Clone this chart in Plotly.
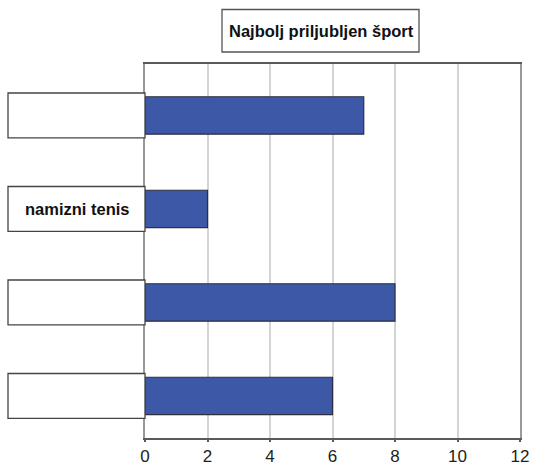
import plotly.graph_objects as go

# data (only one category label is filled in)
categories = ["a", "namizni tenis", "c", "d"]
labels = ["", "namizni tenis", "", ""]
values = [7, 2, 8, 6]
title = "Najbolj priljubljen šport"

W, H = 533, 465
L, R, T, B = 145, 13, 64, 27
pw, ph = W - L - R, H - T - B


def px_x(px):
    # reference pixel -> paper x
    return (px - L) / pw


def px_y(px):
    # reference pixel -> paper y
    return (H - B - px) / ph


fig = go.Figure()
fig.add_trace(go.Bar(
    y=categories, x=values, orientation="h", width=0.4,
    marker=dict(color="#3D58A6", line=dict(color="#2f2f3f", width=1.2)),
    showlegend=False,
))

shapes = []
annotations = []
# label boxes on the left of the plot
for i, lab in enumerate(labels):
    shapes.append(dict(
        type="rect", xref="paper", yref="y",
        x0=px_x(8), x1=0, y0=i - 0.24, y1=i + 0.24,
        line=dict(color="#444444", width=1.3), fillcolor="white", layer="above",
    ))
    if lab:
        annotations.append(dict(
            text="<b>%s</b>" % lab, xref="paper", yref="y",
            x=px_x(77.5), y=i, xanchor="center", yanchor="middle", showarrow=False,
            font=dict(size=16.5, color="#111111", family="Liberation Sans, Arial"),
        ))

# title box
shapes.append(dict(
    type="rect", xref="paper", yref="paper",
    x0=px_x(222), x1=px_x(419), y0=px_y(52), y1=px_y(9.5),
    line=dict(color="#555555", width=1.3), fillcolor="white",
))
annotations.append(dict(
    text="<b>%s</b>" % title, xref="paper", yref="paper",
    x=px_x(321), y=px_y(31), xanchor="center", yanchor="middle", showarrow=False,
    font=dict(size=16.5, color="#111111", family="Liberation Sans, Arial"),
))

fig.update_layout(
    width=W, height=H,
    margin=dict(l=L, r=R, t=T, b=B),
    paper_bgcolor="white", plot_bgcolor="white",
    shapes=shapes, annotations=annotations,
    xaxis=dict(
        range=[0, 12], dtick=2, tick0=0,
        showgrid=True, gridcolor="#d4d4d4", gridwidth=1.5,
        showline=True, linecolor="#5a5a5a", linewidth=2, mirror=True,
        ticks="outside", ticklen=2, tickcolor="#5a5a5a", tickwidth=1.5,
        tickfont=dict(size=17, color="#222222", family="Liberation Sans, Arial"),
        zeroline=False, fixedrange=True, automargin=False,
    ),
    yaxis=dict(
        type="category", categoryarray=categories,
        range=[3.45, -0.55],
        showticklabels=False, showgrid=False, zeroline=False,
        showline=True, linecolor="#999999", linewidth=2, mirror=True,
        fixedrange=True, automargin=False,
    ),
)

# drop the default page margin so the figure sits at the window's corner
fig.write_html(
    "out.html",
    config={"displayModeBar": False},
    post_script="document.body.style.margin='0';document.body.style.overflow='hidden';",
)
